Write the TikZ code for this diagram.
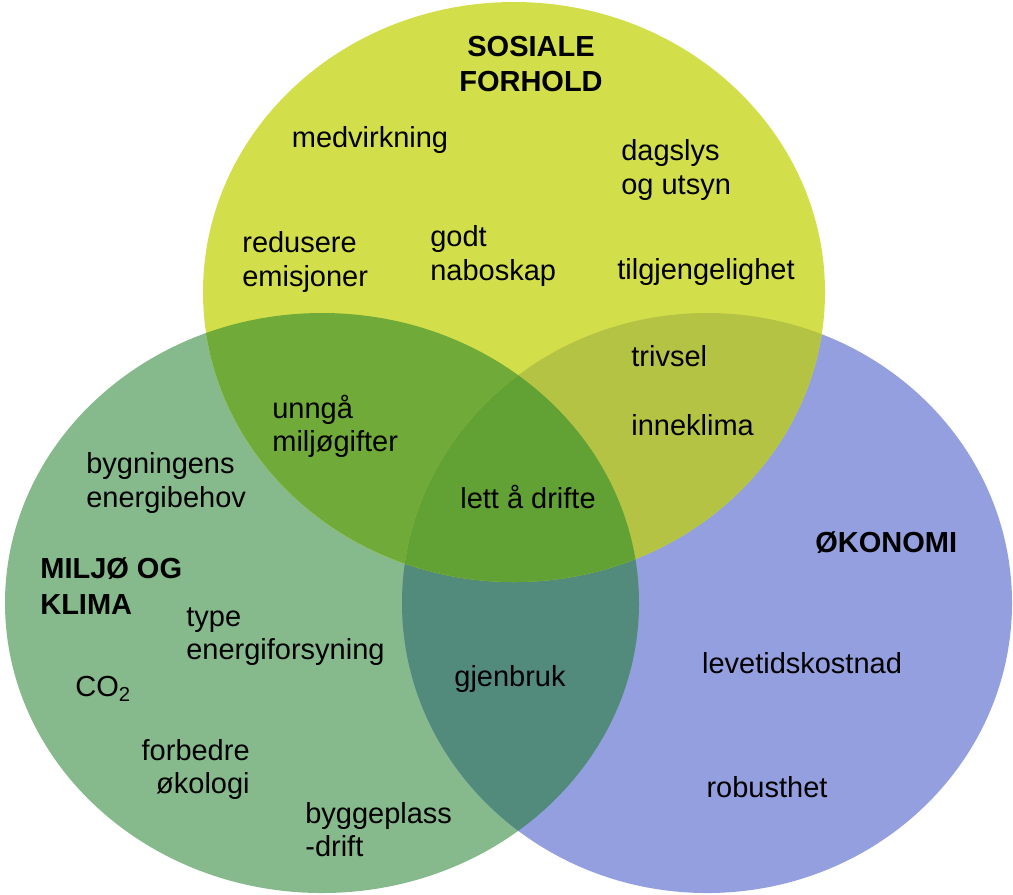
\documentclass[tikz,border=0pt]{standalone}
\usepackage{fontspec}
\setmainfont{Liberation Sans}
\definecolor{sosial}{HTML}{D3DE4B}
\definecolor{miljo}{HTML}{86BA8C}
\definecolor{okonomi}{HTML}{939FDE}
\definecolor{sosmil}{HTML}{70AA38}
\definecolor{sosoko}{HTML}{B5C344}
\definecolor{miloko}{HTML}{528A7C}
\definecolor{alle}{HTML}{62A235}
\begin{document}
\begin{tikzpicture}[x=0.02cm,y=-0.02cm,
    lbl/.style={inner sep=0pt,font=\fontsize{16.5}{18.8}\selectfont},
    hdr/.style={inner sep=0pt,font=\fontsize{16.5}{20}\selectfont\bfseries}]
    \useasboundingbox (0,0) rectangle (1013,894);
    \coordinate (cs) at (514,292);
    \coordinate (cm) at (322,603);
    \coordinate (co) at (707,603);
    \fill[miljo] (cm) ellipse [x radius=317,y radius=290];
    \fill[okonomi] (co) ellipse [x radius=305,y radius=290];
    \fill[sosial] (cs) ellipse [x radius=311,y radius=290];
    \begin{scope}
        \clip (cm) ellipse [x radius=317,y radius=290];
        \fill[miloko] (co) ellipse [x radius=305,y radius=290];
    \end{scope}
    \begin{scope}
        \clip (cs) ellipse [x radius=311,y radius=290];
        \fill[sosmil] (cm) ellipse [x radius=317,y radius=290];
    \end{scope}
    \begin{scope}
        \clip (cs) ellipse [x radius=311,y radius=290];
        \fill[sosoko] (co) ellipse [x radius=305,y radius=290];
    \end{scope}
    \begin{scope}
        \clip (cs) ellipse [x radius=311,y radius=290];
        \clip (cm) ellipse [x radius=317,y radius=290];
        \fill[alle] (co) ellipse [x radius=305,y radius=290];
    \end{scope}
    \foreach \nm/\px/\py/\anc/\al/\st/\txt in {
        sosiale/531/64/center/center/hdr/{SOSIALE\\FORHOLD},
        medv/370/140/center/center/lbl/{medvirkning},
        dagslys/621/170/west/left/lbl/{dagslys\\og utsyn},
        redusere/242/262/west/left/lbl/{redusere\\emisjoner},
        godt/430/256/west/left/lbl/{godt\\naboskap},
        tilgj/617/272/west/left/lbl/{tilgjengelighet},
        trivsel/631/356/west/left/lbl/{trivsel},
        inneklima/631/425/west/left/lbl/{inneklima},
        unnga/272/426/west/left/lbl/{unngå\\miljøgifter},
        bygn/86/483/west/left/lbl/{bygningens\\energibehov},
        lett/528/497/center/center/lbl/{lett å drifte},
        okonomi/815/543/west/left/hdr/{ØKONOMI},
        miljo/40/586/west/left/hdr/{MILJØ OG\\KLIMA},
        type/186/637/west/left/lbl/{type\\energiforsyning},
        co2/75/689/west/left/lbl/{CO\textsubscript{2}},
        gjenbruk/510/679/center/center/lbl/{gjenbruk},
        levetid/802/663/center/center/lbl/{levetidskostnad},
        forbedre/250/769/east/right/lbl/{forbedre\\økologi},
        bygge/305/830/west/left/lbl/{byggeplass\\-drift},
        robust/767/787/center/center/lbl/{robusthet}} {
        \node[\st,anchor=\anc,align=\al] (\nm) at (\px,\py) {\txt};
    }
\end{tikzpicture}
\end{document}
